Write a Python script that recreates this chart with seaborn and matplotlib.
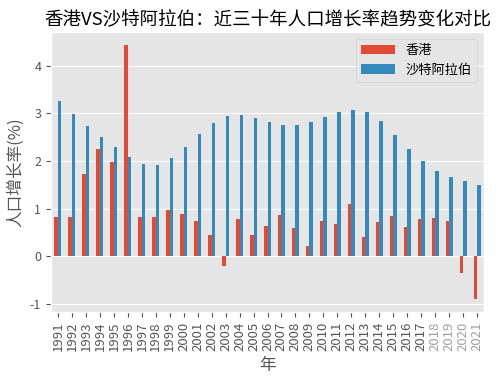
import numpy as np
import pandas as pd
import matplotlib
matplotlib.use('Agg')
import matplotlib.pyplot as plt
import seaborn as sns

# ==================== 数据 ====================
years = [str(y) for y in range(1991, 2022)]
hk_growth = [0.82, 0.83, 1.72, 2.25, 1.97, 4.44, 0.82, 0.82, 0.96, 0.88,
             0.74, 0.44, -0.20, 0.78, 0.44, 0.64, 0.86, 0.60, 0.22, 0.74,
             0.67, 1.10, 0.40, 0.71, 0.85, 0.62, 0.77, 0.80, 0.74, -0.36,
             -0.91]
sa_growth = [3.26, 2.99, 2.73, 2.50, 2.30, 2.09, 1.94, 1.92, 2.06, 2.29,
             2.57, 2.80, 2.94, 2.96, 2.91, 2.82, 2.76, 2.76, 2.82, 2.92,
             3.03, 3.08, 3.03, 2.83, 2.55, 2.25, 2.00, 1.79, 1.66, 1.58,
             1.50]
series_names = ['香港', '沙特阿拉伯']
colors = ['#E24A33', '#348ABD']

df = pd.DataFrame({
    '年': years * 2,
    'value': hk_growth + sa_growth,
    'region': [series_names[0]] * len(years) + [series_names[1]] * len(years),
})

# ==================== 画图 ====================
plt.style.use('ggplot')
plt.rcParams['font.family'] = ['Noto Sans CJK SC', 'DejaVu Sans']
plt.rcParams['axes.unicode_minus'] = False

fig, ax = plt.subplots(figsize=(5, 3.77), dpi=100)
sns.barplot(data=df, x='年', y='value', hue='region', palette=colors,
            width=0.5, gap=0, saturation=1, ax=ax, errorbar=None)

ax.set_title('香港VS沙特阿拉伯：近三十年人口增长率趋势变化对比', fontsize=13.3, color='black')
ax.set_xlabel('年', fontsize=12)
ax.set_ylabel('人口增长率(%)', fontsize=12)
ax.tick_params(axis='x', labelrotation=90, labelsize=9.5)
ax.tick_params(axis='y', labelsize=9)
ax.margins(y=0.05)
ax.set_xlim(-0.5, len(years) - 0.5)
# 最后几个年份标签颜色偏浅
for lbl in ax.get_xticklabels()[-4:]:
    lbl.set_color('#a0a0a0')
ax.legend(title=None, loc='upper right', fontsize=9.5, handlelength=2.6)

plt.subplots_adjust(left=0.102, right=0.968, top=0.915, bottom=0.172)
plt.savefig('out.png', dpi=100)
